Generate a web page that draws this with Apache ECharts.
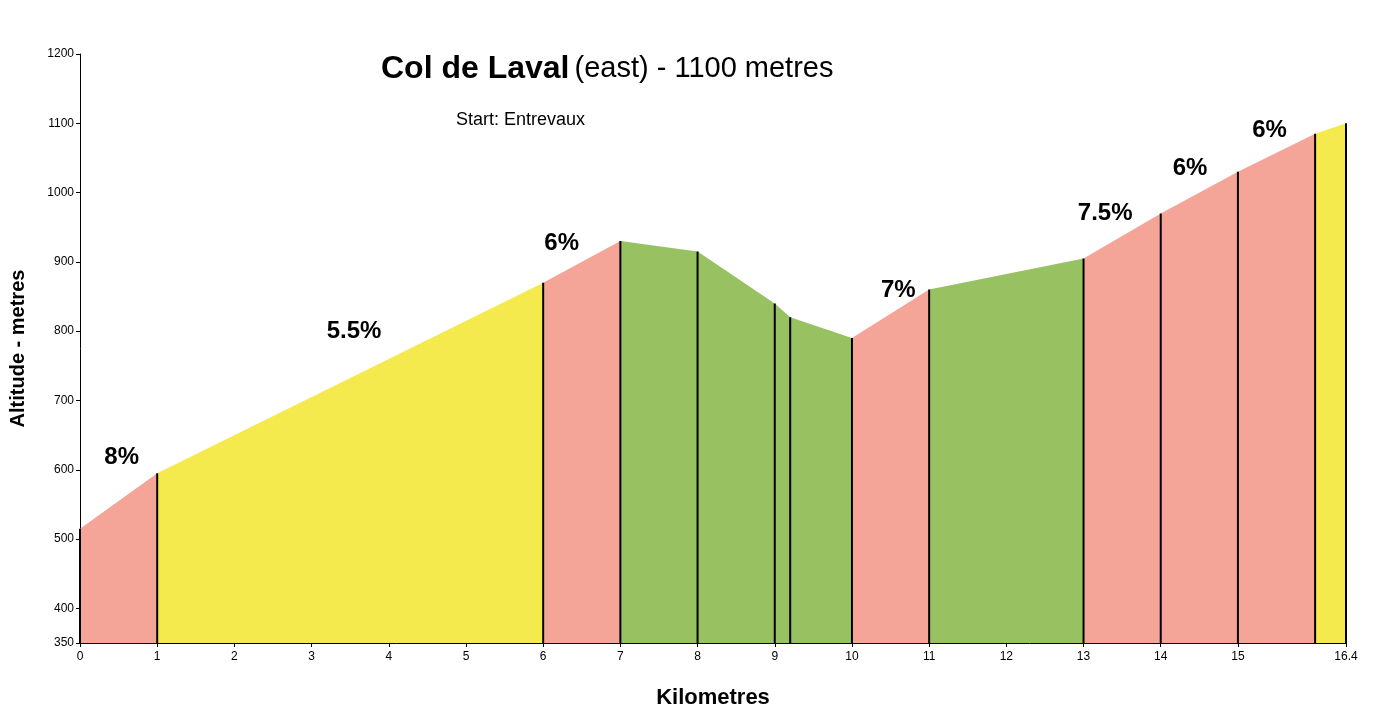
<!DOCTYPE html>
<html>
<head>
<meta charset="utf-8">
<script src="https://cdn.jsdelivr.net/npm/echarts@6/dist/echarts.min.js"></script>
<style>
  html, body { margin: 0; padding: 0; background: #fff; }
  #main { width: 1400px; height: 716px; }
</style>
</head>
<body>
<div id="main"></div>
<script>
// profile points (km, altitude in metres)
const km = [0, 1, 6, 7, 8, 9, 9.2, 10, 11, 13, 14, 15, 16, 16.4];
const alt = [515, 595, 870, 930, 915, 840, 820, 790, 860, 905, 970, 1030, 1085, 1100];
// class of each segment between two points
const segClass = ['steep', 'medium', 'steep', 'easy', 'easy', 'easy', 'easy',
  'steep', 'easy', 'steep', 'steep', 'steep', 'medium'];

// gradient labels
const gradeText = ['8%', '5.5%', '6%', '7%', '7.5%', '6%', '6%'];
const gradeKm = [0.54, 3.55, 6.24, 10.6, 13.28, 14.38, 15.41];
const gradeAlt = [618, 799, 927, 859, 970, 1035, 1090];

// axis ticks
const xTicks = [0, 1, 2, 3, 4, 5, 6, 7, 8, 9, 10, 11, 12, 13, 14, 15, 16.4];
const yTicks = [350, 400, 500, 600, 700, 800, 900, 1000, 1100, 1200];

const classColor = { steep: '#f4a598', medium: '#f5ea4d', easy: '#98c262' };
const FONT = 'Liberation Sans, Arial, Helvetica, sans-serif';
const yMin = 350;

let segData = [];
for (let i = 0; i < km.length - 1; i++) {
  segData.push([km[i], alt[i], km[i + 1], alt[i + 1], i]);
}
let postData = km.map((k, i) => [k, alt[i]]);
let labelData = gradeText.map((t, i) => ({ name: t, value: [gradeKm[i], gradeAlt[i]] }));

let chart = echarts.init(document.getElementById('main'));

let option = {
  animation: false,
  title: [
    {
      text: '{b|Col de Laval} {n|(east) - 1100 metres}',
      left: 376,
      top: 48,
      textStyle: {
        rich: {
          b: { fontFamily: FONT, fontSize: 32, fontWeight: 'bold', color: '#000' },
          n: { fontFamily: FONT, fontSize: 29, fontWeight: 'normal', color: '#000' }
        }
      }
    },
    {
      text: 'Start: Entrevaux',
      left: 451,
      top: 106,
      textStyle: { fontFamily: FONT, fontSize: 18, fontWeight: 'normal', color: '#000' }
    }
  ],
  grid: { left: 80, right: 54, top: 54, bottom: 73 },
  xAxis: {
    type: 'value',
    min: 0,
    max: 16.4,
    name: 'Kilometres',
    nameLocation: 'middle',
    nameGap: 44,
    nameTextStyle: { fontFamily: FONT, fontSize: 22, fontWeight: 'bold', color: '#000' },
    axisLine: { lineStyle: { color: '#000', width: 1 } },
    axisTick: { show: true, length: 4, lineStyle: { color: '#000' }, customValues: xTicks },
    axisLabel: { fontFamily: FONT, fontSize: 12, color: '#000', margin: 8, customValues: xTicks,
      formatter: v => String(v) },
    splitLine: { show: false }
  },
  yAxis: {
    type: 'value',
    min: 350,
    max: 1200,
    name: 'Altitude - metres',
    nameLocation: 'middle',
    nameGap: 52,
    nameTextStyle: { fontFamily: FONT, fontSize: 20, fontWeight: 'bold', color: '#000' },
    axisLine: { show: true, lineStyle: { color: '#000', width: 1 } },
    axisTick: { show: true, length: 4, lineStyle: { color: '#000' }, customValues: yTicks },
    axisLabel: { fontFamily: FONT, fontSize: 12, color: '#000', margin: 6, customValues: yTicks,
      formatter: v => String(v) },
    splitLine: { show: false }
  },
  series: [
    {
      // coloured segments
      type: 'custom',
      data: segData,
      renderItem: function (params, api) {
        let x0 = api.value(0), y0 = api.value(1), x1 = api.value(2), y1 = api.value(3);
        let idx = api.value(4);
        let pts = [
          api.coord([x0, yMin]),
          api.coord([x0, y0]),
          api.coord([x1, y1]),
          api.coord([x1, yMin])
        ];
        return {
          type: 'polygon',
          shape: { points: pts },
          style: { fill: classColor[segClass[idx]], stroke: null }
        };
      },
      z: 1
    },
    {
      // black verticals at each break point
      type: 'custom',
      data: postData,
      renderItem: function (params, api) {
        let top = api.coord([api.value(0), api.value(1)]);
        let bot = api.coord([api.value(0), yMin]);
        return {
          type: 'line',
          shape: { x1: top[0], y1: top[1], x2: bot[0], y2: bot[1] },
          style: { stroke: '#000', lineWidth: 2 }
        };
      },
      z: 2
    },
    {
      // gradient labels
      type: 'scatter',
      data: labelData,
      symbolSize: 0,
      itemStyle: { opacity: 1 },
      label: {
        show: true,
        position: 'inside',
        formatter: '{b}',
        fontFamily: FONT,
        fontSize: 24,
        fontWeight: 'bold',
        color: '#000',
        opacity: 1
      },
      z: 3
    }
  ]
};

chart.setOption(option);
</script>
</body>
</html>
